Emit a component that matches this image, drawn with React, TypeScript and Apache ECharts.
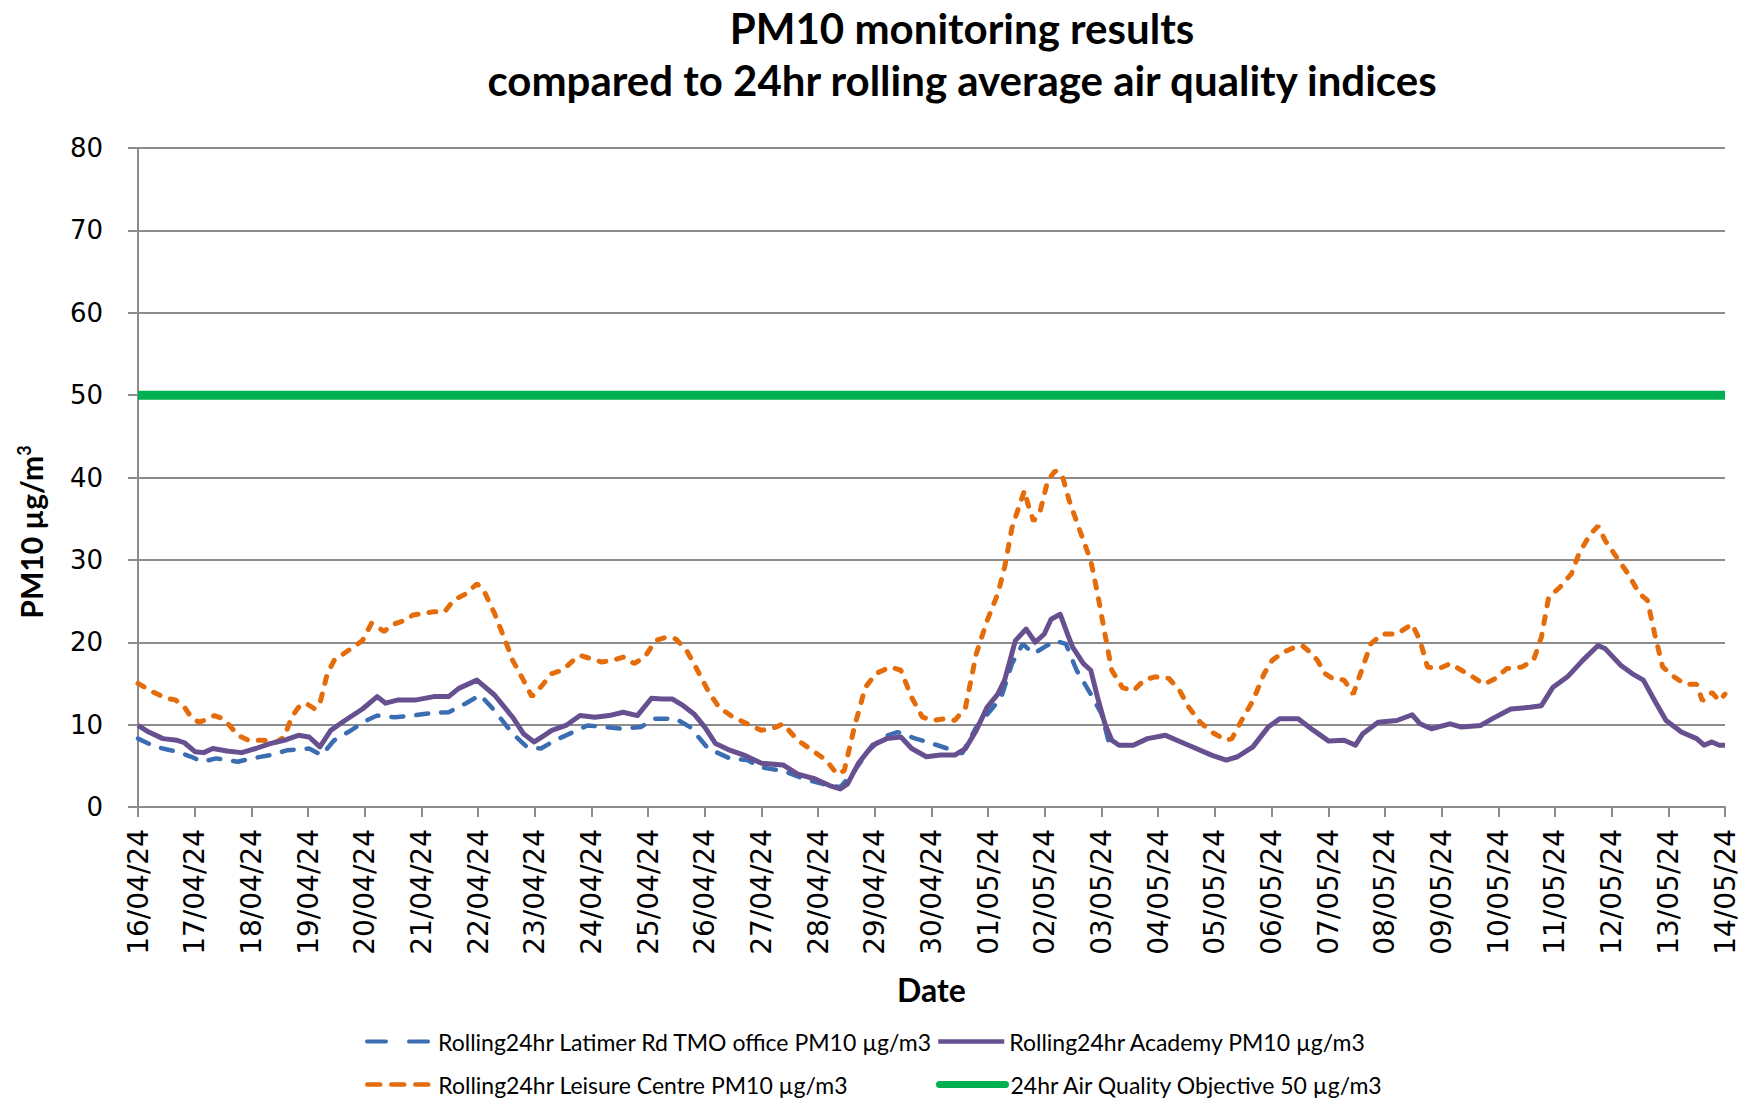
import React, { useEffect, useRef } from "react";
import * as echarts from "echarts";

const titleLines = ["PM10 monitoring results", "compared to 24hr rolling average air quality indices"];
const yAxisTitle = "PM10 µg/m";
const yAxisTitleSup = "3";
const xAxisTitle = "Date";

const dateLabels = [
  "16/04/24", "17/04/24", "18/04/24", "19/04/24", "20/04/24", "21/04/24", "22/04/24", "23/04/24",
  "24/04/24", "25/04/24", "26/04/24", "27/04/24", "28/04/24", "29/04/24", "30/04/24", "01/05/24",
  "02/05/24", "03/05/24", "04/05/24", "05/05/24", "06/05/24", "07/05/24", "08/05/24", "09/05/24",
  "10/05/24", "11/05/24", "12/05/24", "13/05/24", "14/05/24",
];

const seriesNames = [
  "Rolling24hr Latimer Rd TMO office PM10 µg/m3",
  "Rolling24hr Academy PM10 µg/m3",
  "Rolling24hr Leisure Centre PM10 µg/m3",
  "24hr Air Quality Objective 50 µg/m3",
];

// [day offset from 16/04/24, value]
const latimer: [number, number][] = [
  [0, 8.3], [0.31, 7.3], [0.69, 6.7], [0.94, 6.1], [1.13, 5.5], [1.38, 5.9], [1.76, 5.5], [2.01, 5.9],
  [2.33, 6.3], [2.64, 6.9], [3.02, 7.1], [3.24, 6.3], [3.46, 8.1], [3.71, 9.1], [4.03, 10.5], [4.22, 11.1],
  [4.53, 10.9], [4.85, 11.1], [5.16, 11.4], [5.48, 11.5], [5.79, 12.6], [6.04, 13.6], [6.29, 11.7], [6.61, 8.9],
  [6.86, 7.3], [7.11, 7.1], [7.36, 8.1], [7.68, 9.1], [7.93, 9.9], [8.24, 9.7], [8.56, 9.5], [8.87, 9.7],
  [9.11, 10.7], [9.49, 10.7], [9.74, 9.7], [10.06, 7.1], [10.44, 5.9], [10.75, 5.7], [11.0, 4.8], [11.38, 4.4],
  [11.76, 3.4], [12.08, 2.8], [12.39, 2.4], [12.64, 4.4], [12.9, 6.9], [13.15, 8.5], [13.4, 9.1], [13.72, 8.3],
  [13.97, 7.8], [14.28, 7.1], [14.54, 6.5], [14.79, 9.7], [15.04, 11.7], [15.23, 13.3], [15.42, 17.4], [15.61, 19.8],
  [15.8, 18.6], [15.99, 19.4], [16.18, 20.2], [16.37, 19.8], [16.56, 16.6], [16.81, 13.7], [17.0, 11.3], [17.12, 8.1],
  [17.18, 7.3],
];

const academy: [number, number][] = [
  [0, 9.9], [0.19, 9.1], [0.44, 8.3], [0.69, 8.1], [0.82, 7.8], [1.01, 6.7], [1.16, 6.6], [1.32, 7.1],
  [1.57, 6.8], [1.83, 6.6], [2.08, 7.1], [2.33, 7.7], [2.58, 8.1], [2.83, 8.7], [3.02, 8.5], [3.21, 7.3],
  [3.4, 9.3], [3.65, 10.5], [3.96, 11.9], [4.22, 13.4], [4.37, 12.6], [4.59, 13.0], [4.91, 13.0], [5.22, 13.4],
  [5.48, 13.4], [5.66, 14.4], [5.98, 15.4], [6.29, 13.6], [6.61, 10.9], [6.8, 8.9], [6.99, 7.9], [7.17, 8.7],
  [7.3, 9.3], [7.55, 9.9], [7.8, 11.1], [8.06, 10.9], [8.31, 11.1], [8.56, 11.5], [8.81, 11.1], [9.06, 13.2],
  [9.24, 13.1], [9.43, 13.1], [9.62, 12.3], [9.81, 11.3], [10.0, 9.7], [10.19, 7.7], [10.44, 6.9], [10.69, 6.3],
  [11.0, 5.3], [11.38, 5.1], [11.64, 4.0], [11.95, 3.4], [12.2, 2.6], [12.39, 2.2], [12.52, 2.8], [12.71, 5.3],
  [12.96, 7.5], [13.21, 8.3], [13.46, 8.5], [13.65, 7.1], [13.91, 6.1], [14.16, 6.3], [14.41, 6.3], [14.6, 7.1],
  [14.79, 9.3], [14.98, 12.1], [15.17, 13.7], [15.29, 15.4], [15.48, 20.2], [15.67, 21.6], [15.83, 20.0], [15.99, 21.0],
  [16.11, 22.8], [16.27, 23.4], [16.4, 21.0], [16.49, 19.4], [16.68, 17.4], [16.81, 16.6], [16.93, 13.3], [17.06, 10.1],
  [17.18, 8.1], [17.31, 7.5], [17.56, 7.5], [17.81, 8.3], [18.13, 8.7], [18.4, 7.9], [18.67, 7.1], [18.94, 6.3],
  [19.2, 5.7], [19.4, 6.1], [19.67, 7.3], [19.94, 9.7], [20.14, 10.7], [20.47, 10.7], [20.74, 9.3], [21.01, 8.0],
  [21.28, 8.1], [21.48, 7.5], [21.61, 8.9], [21.88, 10.3], [22.21, 10.5], [22.48, 11.2], [22.62, 10.1], [22.82, 9.5],
  [23.15, 10.1], [23.35, 9.7], [23.69, 9.9], [23.89, 10.7], [24.22, 11.9], [24.56, 12.1], [24.76, 12.3], [24.96, 14.5],
  [25.22, 15.8], [25.49, 17.8], [25.76, 19.6], [25.89, 19.2], [26.16, 17.2], [26.36, 16.2], [26.56, 15.4], [26.76, 12.9],
  [26.96, 10.5], [27.23, 9.1], [27.5, 8.3], [27.63, 7.5], [27.77, 7.9], [27.9, 7.5], [28.0, 7.5],
];

const leisure: [number, number][] = [
  [0, 15.0], [0.25, 14.0], [0.5, 13.2], [0.66, 13.0], [0.82, 12.1], [0.94, 10.9], [1.07, 10.3], [1.2, 10.6],
  [1.35, 11.1], [1.51, 10.7], [1.64, 9.7], [1.76, 8.7], [1.95, 8.1], [2.2, 8.1], [2.45, 7.9], [2.58, 8.5],
  [2.71, 10.9], [2.83, 12.1], [2.96, 12.6], [3.12, 11.9], [3.21, 12.6], [3.34, 16.2], [3.46, 17.8], [3.71, 19.0],
  [3.96, 20.2], [4.12, 22.3], [4.22, 21.9], [4.34, 21.3], [4.47, 22.1], [4.72, 22.7], [4.85, 23.3], [5.03, 23.5],
  [5.22, 23.7], [5.41, 23.7], [5.57, 25.1], [5.79, 25.9], [5.98, 27.1], [6.1, 26.3], [6.29, 23.5], [6.48, 20.2],
  [6.61, 17.8], [6.8, 15.4], [6.95, 13.4], [7.11, 14.6], [7.3, 16.2], [7.49, 16.6], [7.68, 17.8], [7.8, 18.4],
  [7.99, 18.0], [8.18, 17.6], [8.37, 17.8], [8.56, 18.2], [8.68, 17.8], [8.75, 17.4], [8.94, 18.2], [9.13, 20.2],
  [9.31, 20.6], [9.49, 20.4], [9.68, 19.0], [9.87, 16.6], [10.06, 14.1], [10.25, 12.1], [10.5, 10.9], [10.75, 10.1],
  [11.0, 9.3], [11.26, 9.7], [11.38, 10.1], [11.64, 8.1], [11.89, 6.9], [12.14, 5.7], [12.33, 4.0], [12.46, 4.4],
  [12.64, 9.7], [12.83, 14.5], [13.02, 16.2], [13.27, 17.0], [13.46, 16.6], [13.65, 13.3], [13.84, 10.9], [14.03, 10.5],
  [14.22, 10.7], [14.41, 10.5], [14.6, 12.1], [14.79, 18.6], [14.98, 22.6], [15.17, 25.9], [15.29, 29.1], [15.42, 33.9],
  [15.54, 36.4], [15.64, 38.4], [15.7, 36.8], [15.8, 34.7], [15.92, 36.0], [16.05, 39.6], [16.18, 40.8], [16.3, 40.4],
  [16.43, 37.2], [16.62, 33.5], [16.81, 29.9], [16.93, 25.9], [17.06, 21.0], [17.18, 16.6], [17.37, 14.5], [17.56, 14.1],
  [17.75, 15.4], [17.94, 15.8], [18.19, 15.6], [18.38, 14.1], [18.54, 12.1], [18.74, 10.3], [18.94, 9.1], [19.2, 8.1],
  [19.3, 8.3], [19.47, 10.5], [19.67, 12.9], [19.87, 16.2], [20.01, 17.8], [20.21, 18.8], [20.41, 19.4], [20.54, 19.6],
  [20.68, 18.8], [20.81, 17.8], [20.94, 16.2], [21.08, 15.6], [21.28, 15.4], [21.44, 13.7], [21.61, 17.0], [21.75, 19.8],
  [21.95, 21.0], [22.21, 21.0], [22.48, 22.2], [22.62, 20.2], [22.75, 17.0], [22.95, 16.8], [23.15, 17.4], [23.35, 16.6],
  [23.55, 15.8], [23.75, 14.9], [23.95, 15.6], [24.15, 16.8], [24.42, 17.0], [24.62, 17.8], [24.76, 20.6], [24.89, 25.5],
  [25.09, 26.7], [25.29, 28.3], [25.42, 30.7], [25.62, 33.1], [25.76, 34.1], [25.89, 32.3], [26.09, 30.3], [26.29, 28.3],
  [26.49, 25.9], [26.63, 25.1], [26.76, 21.0], [26.9, 17.0], [27.1, 15.8], [27.3, 14.9], [27.5, 14.9], [27.6, 12.9],
  [27.77, 13.9], [27.9, 12.9], [28.0, 13.7],
];

const objective: [number, number][] = [[0, 50], [28, 50]];

const TEXT_FONT = "Lato, 'Open Sans', sans-serif";
const LABEL_FONT = "'DejaVu Sans', Verdana, sans-serif";
const GRID = "#8C8C8C";

const COLORS = {
  blue: "#3B6DB3",
  purple: "#67508F",
  orange: "#E46C0A",
  green: "#00B050",
};

function makeLegend(name: string, left: number, top: number, lineStyle: any) {
  return {
    data: [name],
    left,
    top,
    orient: "horizontal",
    padding: 0,
    itemWidth: 66,
    itemHeight: 14,
    selectedMode: false,
    itemStyle: { opacity: 0 },
    lineStyle,
    textStyle: { fontFamily: TEXT_FONT, fontSize: 23, color: "#000" },
  };
}

export default function App() {
  const ref = useRef<HTMLDivElement>(null);
  useEffect(() => {
    if (!ref.current) return;
    const chart = echarts.init(ref.current, null, { renderer: "svg" });
    const option: any = {
      animation: false,
      backgroundColor: "#fff",
      title: {
        text: titleLines.join("\n"),
        left: 962,
        top: 2,
        padding: 0,
        textAlign: "center",
        textStyle: { fontFamily: TEXT_FONT, fontSize: 42, fontWeight: "bold", lineHeight: 52, color: "#000" },
      },
      grid: { left: 138, right: 20, top: 148, bottom: 294, containLabel: false },
      xAxis: {
        type: "value",
        min: 0,
        max: 28,
        interval: 1,
        name: xAxisTitle,
        nameLocation: "middle",
        nameGap: 166,
        nameTextStyle: { fontFamily: TEXT_FONT, fontSize: 32, fontWeight: "bold", color: "#000" },
        axisLine: { show: true, lineStyle: { color: GRID, width: 2 } },
        axisTick: { show: true, length: 10, lineStyle: { color: GRID, width: 2 } },
        splitLine: { show: false },
        axisLabel: {
          rotate: 90,
          margin: 22,
          fontSize: 28,
          fontFamily: LABEL_FONT,
          color: "#000",
          formatter: (v: number) => dateLabels[Math.round(v)] ?? "",
        },
      },
      yAxis: {
        type: "value",
        min: 0,
        max: 80,
        interval: 10,
        axisLine: { show: true, lineStyle: { color: GRID, width: 2 } },
        axisTick: { show: true, length: 10, lineStyle: { color: GRID, width: 2 } },
        splitLine: { show: true, lineStyle: { color: GRID, width: 2 } },
        axisLabel: { margin: 35, fontSize: 26, fontFamily: LABEL_FONT, color: "#000" },
      },
      legend: [
        makeLegend(seriesNames[0], 365, 1030, { width: 4, type: [19, 23], cap: "round" }),
        makeLegend(seriesNames[1], 936, 1030, { width: 4.5 }),
        makeLegend(seriesNames[2], 365, 1073, { width: 4.5, type: [13, 11], cap: "round" }),
        makeLegend(seriesNames[3], 936, 1073, { width: 7, cap: "round" }),
      ],
      graphic: [
        {
          type: "text",
          x: 31,
          y: 532,
          rotation: Math.PI / 2,
          style: {
            text: `{main|${yAxisTitle}}{sup|${yAxisTitleSup}}`,
            align: "center",
            verticalAlign: "middle",
            rich: {
              main: { fontFamily: TEXT_FONT, fontSize: 30, fontWeight: "bold", fill: "#000", lineHeight: 32 },
              sup: { fontFamily: TEXT_FONT, fontSize: 18, fontWeight: "bold", fill: "#000", verticalAlign: "top", lineHeight: 32 },
            },
          },
        },
      ],
      series: [
        {
          name: seriesNames[0],
          type: "line",
          data: latimer,
          symbol: "none",
          lineStyle: { color: COLORS.blue, width: 4.5, type: [12, 13], cap: "round" },
          itemStyle: { color: COLORS.blue },
          z: 2,
        },
        {
          name: seriesNames[1],
          type: "line",
          data: academy,
          symbol: "none",
          lineStyle: { color: COLORS.purple, width: 5, join: "round" },
          itemStyle: { color: COLORS.purple },
          z: 4,
        },
        {
          name: seriesNames[2],
          type: "line",
          data: leisure,
          symbol: "none",
          lineStyle: { color: COLORS.orange, width: 5, type: [7, 11], cap: "round" },
          itemStyle: { color: COLORS.orange },
          z: 3,
        },
        {
          name: seriesNames[3],
          type: "line",
          data: objective,
          symbol: "none",
          lineStyle: { color: COLORS.green, width: 9 },
          itemStyle: { color: COLORS.green },
          z: 3,
        },
      ],
    };
    chart.setOption(option);
    return () => chart.dispose();
  }, []);
  return (
    <div
      ref={ref}
      style={{ position: "absolute", left: 0, top: 0, width: 1745, height: 1101 }}
    />
  );
}
